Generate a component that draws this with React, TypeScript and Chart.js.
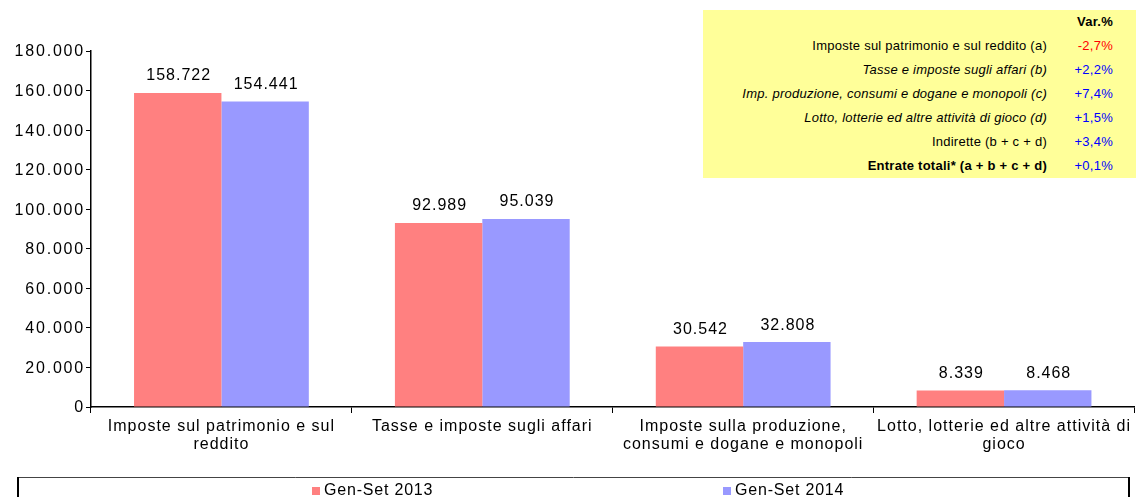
import React, { useEffect, useRef } from "react";
import { Chart, registerables } from "chart.js";

Chart.register(...registerables);

const categories: string[][] = [
  ["Imposte sul patrimonio e sul", "reddito"],
  ["Tasse e imposte sugli affari"],
  ["Imposte sulla produzione,", "consumi e dogane e monopoli"],
  ["Lotto, lotterie ed altre attività di", "gioco"],
];
const series2013: number[] = [158722, 92989, 30542, 8339];
const series2014: number[] = [154441, 95039, 32808, 8468];
const seriesNames: string[] = ["Gen-Set 2013", "Gen-Set 2014"];
const seriesColors: string[] = ["#FF8080", "#9999FF"];
const yMax = 180000;
const yStep = 20000;

const tableLabels: string[] = [
  "Imposte sul patrimonio e sul reddito (a)",
  "Tasse e imposte sugli affari (b)",
  "Imp. produzione, consumi e dogane e monopoli (c)",
  "Lotto, lotterie ed altre attività di gioco (d)",
  "Indirette (b + c + d)",
  "Entrate totali* (a + b + c + d)",
];
const tableValues: string[] = ["-2,7%", "+2,2%", "+7,4%", "+1,5%", "+3,4%", "+0,1%"];
const tableStyles: string[] = ["normal", "italic", "italic", "italic", "normal", "bold"];

const FONT = "'Liberation Sans', Arial, sans-serif";

function fmt(n: number): string {
  return String(Math.round(n)).replace(/\B(?=(\d{3})+(?!\d))/g, ".");
}

const spacing = {
  id: "spacing",
  beforeUpdate(chart: any) { chart.ctx.letterSpacing = "1px"; },
  beforeDraw(chart: any) { chart.ctx.letterSpacing = "1px"; },
};

const yLabels = {
  id: "yLabels",
  afterDraw(chart: any) {
    const ctx = chart.ctx;
    const ys = chart.scales.y;
    ctx.save();
    ctx.letterSpacing = "1.8px";
    ctx.font = `16px ${FONT}`;
    ctx.fillStyle = "#000";
    ctx.textAlign = "right";
    ctx.textBaseline = "middle";
    ys.ticks.forEach((t: any) => {
      ctx.fillText(fmt(t.value), ys.left + ys.width - 6, ys.getPixelForValue(t.value) + 1);
    });
    ctx.restore();
  },
};

const valueLabels = {
  id: "valueLabels",
  afterDatasetsDraw(chart: any) {
    const ctx = chart.ctx;
    ctx.save();
    ctx.letterSpacing = "1px";
    ctx.font = `16px ${FONT}`;
    ctx.fillStyle = "#000";
    ctx.textAlign = "center";
    ctx.textBaseline = "middle";
    chart.data.datasets.forEach((ds: any, i: number) => {
      const meta = chart.getDatasetMeta(i);
      meta.data.forEach((el: any, j: number) => {
        ctx.fillText(fmt(ds.data[j]), el.x + 1, el.y - 17);
      });
    });
    ctx.restore();
  },
};

const boxLegend = {
  id: "boxLegend",
  afterDraw(chart: any) {
    const ctx = chart.ctx;
    ctx.save();
    ctx.strokeStyle = "#444";
    ctx.lineWidth = 1;
    ctx.beginPath();
    ctx.moveTo(18, 477.5);
    ctx.lineTo(1129, 477.5);
    ctx.stroke();
    ctx.strokeStyle = "#000";
    ctx.lineWidth = 2;
    ctx.beginPath();
    ctx.moveTo(18, 477);
    ctx.lineTo(18, 497);
    ctx.moveTo(1129, 477);
    ctx.lineTo(1129, 497);
    ctx.stroke();
    ctx.letterSpacing = "0.8px";
    ctx.font = `16px ${FONT}`;
    ctx.textBaseline = "middle";
    ctx.textAlign = "left";
    const xs = [312, 723];
    seriesNames.forEach((name, i) => {
      ctx.fillStyle = seriesColors[i];
      ctx.fillRect(xs[i], 487, 8, 8);
      ctx.fillStyle = "#000";
      ctx.fillText(name, xs[i] + 12, 491);
    });
    ctx.restore();
  },
};

export default function App() {
  const ref = useRef<HTMLCanvasElement | null>(null);
  useEffect(() => {
    if (!ref.current) return;
    const chart = new Chart(ref.current, {
      type: "bar",
      data: {
        labels: categories,
        datasets: [
          { label: seriesNames[0], data: series2013, backgroundColor: seriesColors[0], categoryPercentage: 0.67, barPercentage: 1 },
          { label: seriesNames[1], data: series2014, backgroundColor: seriesColors[1], categoryPercentage: 0.67, barPercentage: 1 },
        ],
      },
      options: {
        responsive: false,
        animation: false,
        devicePixelRatio: 1,
        layout: { padding: { top: 51, left: 0, right: 0, bottom: 0 } },
        plugins: { legend: { display: false }, tooltip: { enabled: false } },
        scales: {
          x: {
            grid: { display: true, drawOnChartArea: false, color: "#000", tickLength: 6, offset: true },
            border: { display: true, color: "#000", width: 1.5 },
            ticks: { color: "#000", font: { family: FONT, size: 16, lineHeight: 1.1 }, padding: 5, maxRotation: 0, autoSkip: false },
            afterFit(scale: any) { scale.height = 90; },
          },
          y: {
            min: 0,
            max: yMax,
            grid: { display: true, drawOnChartArea: false, color: "#000", tickLength: 5 },
            border: { display: true, color: "#000", width: 1.5 },
            ticks: { stepSize: yStep, display: false },
            afterFit(scale: any) { scale.width = 91; },
          },
        },
      },
      plugins: [spacing, valueLabels, yLabels, boxLegend],
    });
    return () => chart.destroy();
  }, []);

  const txt = { position: "absolute" as const, lineHeight: "24px", fontSize: 13, whiteSpace: "nowrap" as const, letterSpacing: "0.25px" };

  return (
    <div style={{ position: "absolute", left: 0, top: 0, width: 1136, height: 497, overflow: "hidden", background: "#fff", fontFamily: FONT }}>
      <canvas ref={ref} width={1136} height={497} style={{ position: "absolute", left: 0, top: 0 }} />
      <div style={{ position: "absolute", left: 703, top: 10, width: 433, height: 168, background: "#FFFF99" }}>
        <div style={{ ...txt, right: 23, top: 0, fontWeight: "bold", color: "#000" }}>Var.%</div>
        {tableLabels.map((t, i) => (
          <React.Fragment key={i}>
            <div style={{ ...txt, right: 89, top: 24 * (i + 1), color: "#000", fontStyle: tableStyles[i] === "italic" ? "italic" : "normal", fontWeight: tableStyles[i] === "bold" ? "bold" : "normal" }}>{t}</div>
            <div style={{ ...txt, right: 23, top: 24 * (i + 1), color: tableValues[i].startsWith("-") ? "#FF0000" : "#0000FF" }}>{tableValues[i]}</div>
          </React.Fragment>
        ))}
      </div>
    </div>
  );
}
